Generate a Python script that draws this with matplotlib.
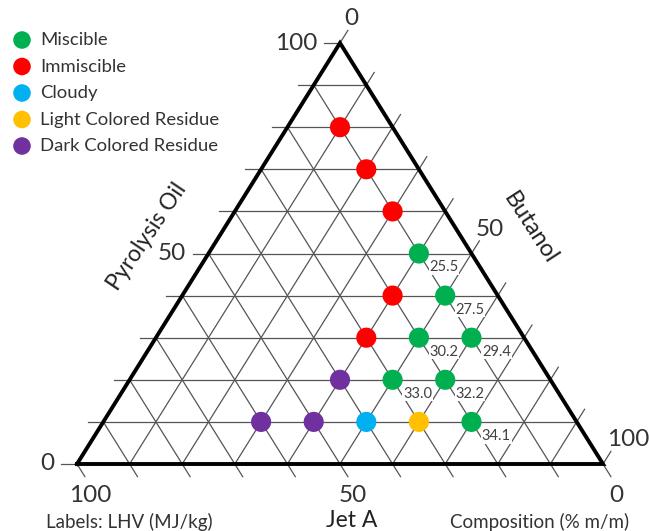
import numpy as np
import matplotlib.pyplot as plt

plt.rcParams['font.family'] = ['Lato', 'DejaVu Sans']

# composition (% m/m) of each blend and its test result
pyrolysis = [80, 70, 60, 50, 40, 40, 30, 30, 30, 20, 20, 20, 10, 10, 10, 10, 10]
butanol   = [10, 20, 30, 40, 40, 50, 40, 50, 60, 40, 50, 60, 30, 40, 50, 60, 70]
jet_a     = [10, 10, 10, 10, 20, 10, 30, 20, 10, 40, 30, 20, 60, 50, 40, 30, 20]
status = ['Immiscible', 'Immiscible', 'Immiscible', 'Miscible', 'Immiscible', 'Miscible',
          'Immiscible', 'Miscible', 'Miscible', 'Dark Colored Residue', 'Miscible', 'Miscible',
          'Dark Colored Residue', 'Dark Colored Residue', 'Cloudy', 'Light Colored Residue',
          'Miscible']
lhv = ['', '', '', '25.5', '', '27.5', '', '30.2', '29.4', '', '33.0', '32.2',
       '', '', '', '', '34.1']

categories = ['Miscible', 'Immiscible', 'Cloudy', 'Light Colored Residue', 'Dark Colored Residue']
colors = ['#00B050', '#FF0000', '#00B0F0', '#FFC000', '#7030A0']
color_map = dict(zip(categories, colors))

tick_values = [0, 50, 100]

# triangle frame in pixel units (top = pyrolysis, right = butanol, left = jet A)
X0, W, YB, H = 77, 526, 464, 421


def tern(p, b):
    p = np.asarray(p) / 100.0
    b = np.asarray(b) / 100.0
    return X0 + (b + p / 2) * W, YB - p * H


fig = plt.figure(figsize=(6.49, 5.31), dpi=100)
ax = fig.add_axes([0, 0, 1, 1])
ax.set_xlim(0, 649)
ax.set_ylim(531, 0)
ax.axis('off')

t = 3  # tick extension in %
grid_kw = dict(color='#555555', lw=0.9, zorder=1)
for k in range(0, 101, 10):
    # constant pyrolysis (horizontal), tick to the left
    x, y = tern([k, k], [-t, 100 - k])
    ax.plot(x, y, **grid_kw)
    # constant butanol, tick up-right past the right edge
    x, y = tern([0, 100 - k + t], [k, k])
    ax.plot(x, y, **grid_kw)
    # constant jet A, tick down-right below the bottom edge
    x, y = tern([100 - k, -t], [0, 100 - k + t])
    ax.plot(x, y, **grid_kw)

# triangle edges
x, y = tern([0, 0, 100, 0], [0, 100, 0, 0])
ax.plot(x, y, color='black', lw=2.8, zorder=2, solid_joinstyle='miter')

# tick labels
fs_tick = 17.5
for v in tick_values:
    x, y = tern(v, -t)
    ax.text(x - 7, y, str(v), ha='right', va='center', fontsize=fs_tick, color='#333333')
    x, y = tern(100 - v + t, v)
    ax.text(x - 4, y - 1, str(v), ha='left', va='bottom', fontsize=fs_tick, color='#333333')
    x, y = tern(-t, 100 - v + t)
    ax.text(x + 5, y + 8, str(v), ha='center', va='top', fontsize=fs_tick, color='#333333')

# axis titles
ax.text(147, 237, 'Pyrolysis Oil', rotation=56, ha='center', va='center',
        fontsize=16.5, color='#222222')
ax.text(530, 228, 'Butanol', rotation=-57, ha='center', va='center',
        fontsize=17, color='#222222')
ax.text(352, 510, 'Jet A', ha='center', va='top', fontsize=16.5, color='#222222')
ax.text(46, 522, 'Labels: LHV (MJ/kg)', ha='left', va='center', fontsize=13.5, color='#333333')
ax.text(629, 522, 'Composition (% m/m)', ha='right', va='center', fontsize=13.5, color='#333333')

# data points
px, py = tern(pyrolysis, butanol)
ax.scatter(px, py, s=210, c=[color_map[s] for s in status], edgecolors='none', zorder=3)
for xi, yi, lab in zip(px, py, lhv):
    if lab:
        ax.annotate(lab, (xi, yi), xytext=(7.5, -5), textcoords='offset points',
                    ha='left', va='top', fontsize=10.5, color='#404040', zorder=4,
                    bbox=dict(boxstyle='square,pad=0.05', fc='white', ec='none'))

# legend
for i, (cat, col) in enumerate(zip(categories, colors)):
    yy = 40 + i * 26.5
    ax.scatter([22], [yy], s=160, color=col, edgecolors='none')
    ax.text(40, yy, cat, ha='left', va='center', fontsize=13.3, color='#333333')

fig.savefig('out.png', dpi=100)
